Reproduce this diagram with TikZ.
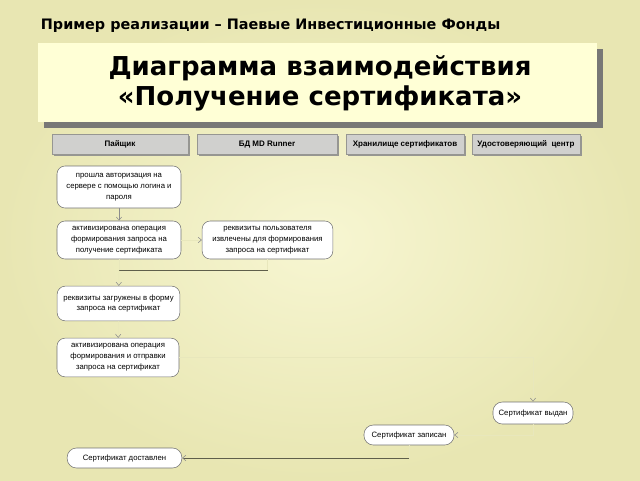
\documentclass[tikz,border=0pt]{standalone}
\usepackage{fontspec}
\setmainfont{Liberation Sans}
\newfontfamily\headfont{DejaVu Sans}
\usetikzlibrary{arrows.meta}

\definecolor{bgdark}{RGB}{232,230,178}
\definecolor{bglight}{RGB}{247,246,210}
\definecolor{titlefill}{RGB}{255,255,214}
\definecolor{shadowgray}{RGB}{120,120,118}
\definecolor{lanegray}{RGB}{208,208,206}
\definecolor{lanedark}{RGB}{150,150,146}
\definecolor{barline}{RGB}{95,95,75}
\definecolor{hidden}{RGB}{232,231,188}

\tikzset{every picture/.style={line width=0.75pt}}
\tikzset{
  act/.style={draw=black!55, line width=0.4pt, fill=white, rounded corners=6pt, align=center,
    font=\fontsize{5.8}{8.2}\selectfont, inner sep=1pt},
  lane/.style={draw=lanedark, line width=0.4pt, fill=lanegray, minimum height=15pt,
    text height=4.5pt, text depth=1.2pt, font=\bfseries\fontsize{6}{7}\selectfont},
  flow/.style={draw=black!45, line width=0.4pt, -{Straight Barb[length=2.5pt,width=4pt]}},
  faint/.style={draw=hidden, line width=0.3pt, -{Straight Barb[length=2.5pt,width=4pt,color=black!45,line width=0.4pt]}},
}

\begin{document}
\begin{tikzpicture}[x=0.75pt,y=0.75pt,yscale=-1,xscale=1]
\useasboundingbox (0,0) rectangle (640,480);

%Background
\shade [inner color=bglight, outer color=bgdark] (0,0) rectangle (640,480);

% Text Node
\node [anchor=west, font=\headfont\bfseries\fontsize{10.8}{12}\selectfont] (subtitle) at (36,26) {Пример реализации – Паевые Инвестиционные Фонды};

%Shape: Title box with shadow
\fill [shadowgray] (44,49) rectangle (603,128);
\fill [titlefill] (38,43) rectangle (597,122);
% Text Node
\node [align=center, font=\headfont\bfseries\fontsize{19.5}{22}\selectfont] (title) at (320,83.5) {Диаграмма взаимодействия\\«Получение сертификата»};

%Shape: Swimlane headers
\fill [lanedark] (54,136) rectangle (190,156);
\node [lane, minimum width=102pt] (laneA) at (120,144) {Пайщик};
\fill [lanedark] (199,136) rectangle (339,156);
\node [lane, minimum width=105pt] (laneB) at (267,144) {БД MD Runner};
\fill [lanedark] (348,136) rectangle (466,156);
\node [lane, minimum width=88.5pt] (laneC) at (405,144) {Хранилище сертификатов};
\fill [lanedark] (474,136) rectangle (582,156);
\node [lane, minimum width=81pt] (laneD) at (526,144) {Удостоверяющий\ \ центр};

%Activities
\node [act, minimum width=93pt, minimum height=31.5pt] (auth) at (119,187) {прошла авторизация на\\сервере с помощью логина и\\пароля};
\node [act, minimum width=93pt, minimum height=28.5pt] (request) at (119,240) {активизирована операция\\формирования запроса на\\получение сертификата};
\node [act, minimum width=98pt, minimum height=28.5pt] (props) at (267.5,240) {реквизиты пользователя\\извлечены для формирования\\запроса на сертификат};
\node [act, minimum width=92pt, minimum height=26pt] (loaded) at (118.5,303.5) {реквизиты загружены в форму\\запроса на сертификат};
\node [act, minimum width=91.5pt, minimum height=29pt] (send) at (118,357.5) {активизирована операция\\формирования и отправки\\запроса на сертификат};
\node [act, minimum width=60pt, minimum height=16.5pt, rounded corners=7pt] (issued) at (533,413) {Сертификат выдан};
\node [act, minimum width=67.5pt, minimum height=15pt, rounded corners=7pt] (stored) at (409,435) {Сертификат записан};
\node [act, minimum width=86pt, minimum height=15pt, rounded corners=7pt] (delivered) at (124.5,458) {Сертификат доставлен};

%Synchronization bar
\coordinate (barL) at (119,270);
\coordinate (barR) at (268,270);
\draw [barline, line width=0.6pt] (barL) -- (barR);

%Transitions
\draw [flow] (auth) -- (request);
\draw [faint] (request) -- (props);
\draw [faint, -] (request) -- (barL);
\draw [faint, -] (props.south) -- (props.south |- barR);
\draw [faint] (barL) -- (loaded);
\draw [faint] (loaded) -- (send);
\draw [faint] (send.east) -| (issued.north);
\draw [faint] (issued.south) |- (stored.east);
\draw [faint, -] (stored.south) -- (stored.south |- delivered.east);
\draw [draw=barline, line width=0.6pt, -{Straight Barb[length=2.5pt,width=4pt,color=black!45,line width=0.4pt]}] (stored.south |- delivered.east) -- (delivered.east);

\end{tikzpicture}
\end{document}
